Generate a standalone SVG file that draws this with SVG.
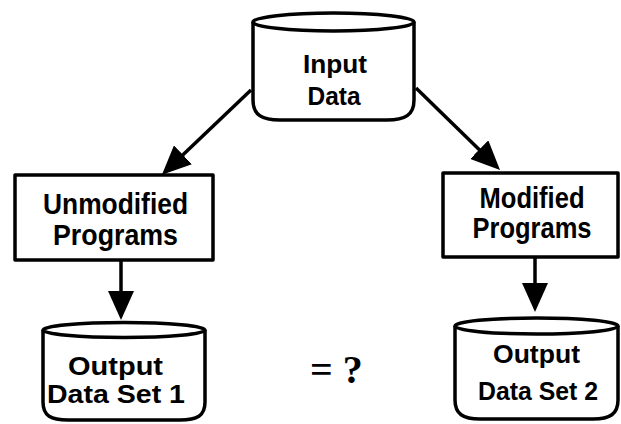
<svg xmlns="http://www.w3.org/2000/svg" width="621" height="424" viewBox="0 0 621 424">
<style>
.shape{fill:#fff;stroke:#000;stroke-width:3.5;stroke-linejoin:round}
.lbl{font-family:"Liberation Sans",Arial,sans-serif;font-weight:bold;fill:#000;text-anchor:middle}
.big{font-size:30px}
.sm{font-size:26px}
.conn{stroke:#000;stroke-width:3.5;fill:none}
</style>
<defs>
<marker id="ah" markerUnits="userSpaceOnUse" markerWidth="30" markerHeight="26" refX="22" refY="13" orient="auto" viewBox="0 0 30 26">
<path d="M0,0 L29,13 L0,26 Z" fill="#000"/>
</marker>
</defs>
<rect width="621" height="424" fill="#fff"/>
<g id="connectors">
<line class="conn" x1="251" y1="90" x2="167" y2="170" marker-end="url(#ah)"/>
<line class="conn" x1="416" y1="88" x2="495" y2="165" marker-end="url(#ah)"/>
<line class="conn" x1="121" y1="260" x2="121" y2="313" marker-end="url(#ah)"/>
<line class="conn" x1="535" y1="257" x2="535" y2="305" marker-end="url(#ah)"/>
</g>
<g id="input-data">
<path class="shape" d="M253,22 V100 C253,115 262,120 280,120 L387,120 C405,120 414,115 414,100 V22"/>
<ellipse class="shape" cx="333.5" cy="22" rx="80.5" ry="9"/>
<text class="lbl sm" x="335" y="73" textLength="64" lengthAdjust="spacingAndGlyphs">Input</text>
<text class="lbl sm" x="334" y="105" textLength="53" lengthAdjust="spacingAndGlyphs">Data</text>
</g>
<g id="unmodified-programs">
<rect class="shape" x="15" y="175" width="198" height="85"/>
<text class="lbl big" x="115.5" y="214" textLength="145" lengthAdjust="spacingAndGlyphs">Unmodified</text>
<text class="lbl big" x="115.5" y="245" textLength="125" lengthAdjust="spacingAndGlyphs">Programs</text>
</g>
<g id="modified-programs">
<rect class="shape" x="443" y="173" width="175" height="84"/>
<text class="lbl big" x="532" y="208" textLength="105" lengthAdjust="spacingAndGlyphs">Modified</text>
<text class="lbl big" x="532" y="238" textLength="119" lengthAdjust="spacingAndGlyphs">Programs</text>
</g>
<g id="output-data-set-1">
<path class="shape" d="M43,330 V402 C43,416 51,420 68,420 L180,420 C197,420 205,416 205,402 V330"/>
<ellipse class="shape" cx="124" cy="330" rx="81" ry="7.5"/>
<text class="lbl sm" x="115.5" y="375" textLength="95" lengthAdjust="spacingAndGlyphs">Output</text>
<text class="lbl sm" x="116" y="403" textLength="138" lengthAdjust="spacingAndGlyphs">Data Set 1</text>
</g>
<g id="output-data-set-2">
<path class="shape" d="M455,326 V400 C455,414 463,419 480,419 L593,419 C610,419 618,414 618,400 V326"/>
<ellipse class="shape" cx="536.5" cy="326" rx="81.5" ry="8"/>
<text class="lbl sm" x="536.5" y="363" textLength="87" lengthAdjust="spacingAndGlyphs">Output</text>
<text class="lbl sm" x="538" y="400" textLength="120" lengthAdjust="spacingAndGlyphs">Data Set 2</text>
</g>
<text x="310" y="383" font-family="'Liberation Serif','Times New Roman',serif" font-weight="bold" font-size="40" fill="#000">= ?</text>
</svg>
